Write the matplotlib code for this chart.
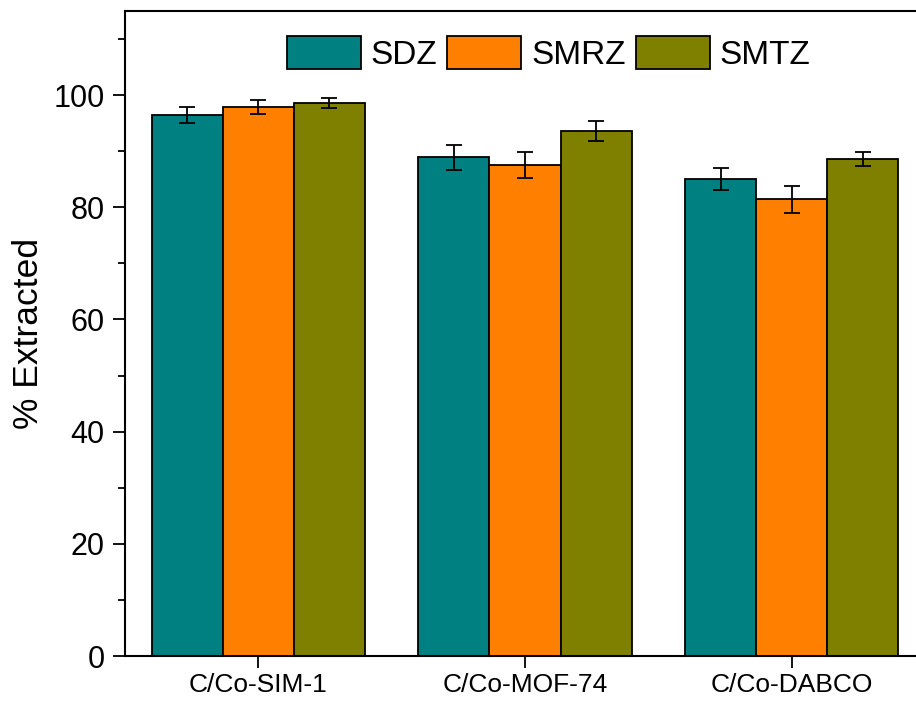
import matplotlib
matplotlib.use("Agg")
import matplotlib.pyplot as plt
import numpy as np
from matplotlib.ticker import MultipleLocator

plt.rcParams['font.family'] = ['Liberation Sans', 'DejaVu Sans']

# data
materials = ['C/Co-SIM-1', 'C/Co-MOF-74', 'C/Co-DABCO']
series = ['SDZ', 'SMRZ', 'SMTZ']
sdz = [96.5, 88.9, 85.0]
sdz_err = [1.4, 2.2, 2.0]
smrz = [97.9, 87.6, 81.4]
smrz_err = [1.2, 2.3, 2.4]
smtz = [98.6, 93.6, 88.6]
smtz_err = [0.9, 1.8, 1.2]
colors = ['#008080', '#FF8000', '#808000']

fig = plt.figure(figsize=(9.16, 7.02), dpi=100)
ax = fig.add_axes([0.1365, 0.0655, 0.8635, 0.9188])

x = np.arange(len(materials))
w = 0.8 / 3
vals = [sdz, smrz, smtz]
errs = [sdz_err, smrz_err, smtz_err]
for i in range(3):
    ax.bar(x + (i - 1) * w, vals[i], w, color=colors[i], edgecolor='black',
           linewidth=1.3, label=series[i], yerr=errs[i],
           error_kw=dict(ecolor='black', elinewidth=1.3, capsize=6, capthick=1.3))

ax.set_xlim(-0.5, 2.466)
ax.set_ylim(0, 115)
ax.set_xticks(x)
ax.set_xticklabels(materials, fontsize=19)
ax.yaxis.set_major_locator(MultipleLocator(20))
ax.yaxis.set_minor_locator(MultipleLocator(10))
ax.tick_params(axis='y', which='major', labelsize=22, length=8.6, width=1.3,
               direction='out', pad=6)
ax.tick_params(axis='y', which='minor', length=5, width=1.3, direction='out')
ax.tick_params(axis='x', length=8.6, width=1.3, direction='out')
ax.set_ylabel('% Extracted', fontsize=25.5, labelpad=6)
for s in ['left', 'bottom', 'top']:
    ax.spines[s].set_linewidth(1.5)
ax.spines['right'].set_visible(False)

leg = ax.legend(ncol=3, loc='upper left', bbox_to_anchor=(0.179, 0.993), fontsize=24,
                frameon=False, handlelength=2.22, handleheight=1.17, columnspacing=0.3,
                handletextpad=0.3, borderaxespad=0.2)

fig.savefig('out.png', dpi=100)
